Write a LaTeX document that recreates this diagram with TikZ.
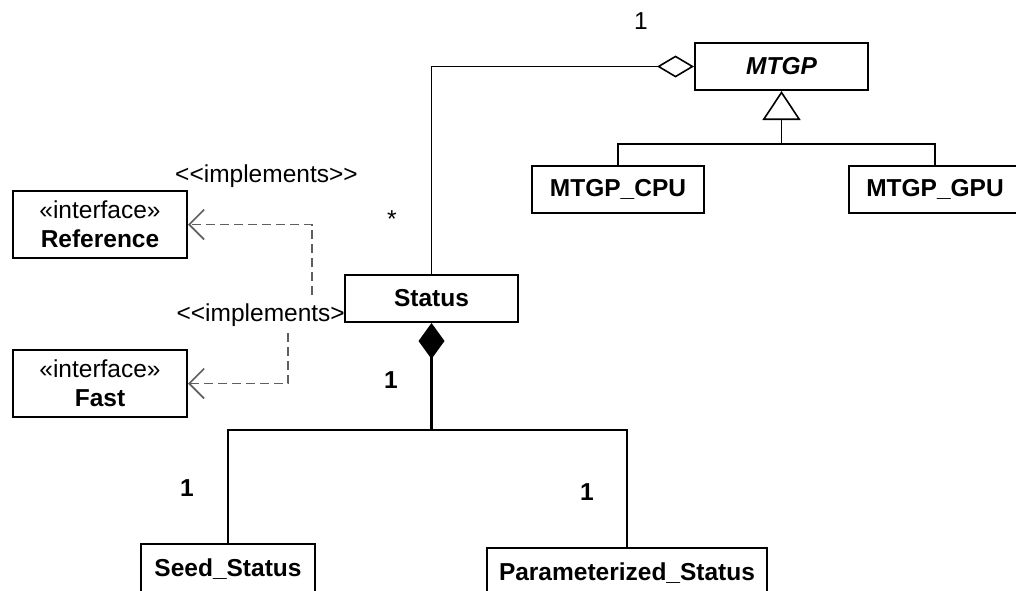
\documentclass[tikz,border=0pt]{standalone}
\usepackage{fontspec}
\newfontfamily\lsans{Liberation Sans}
\usetikzlibrary{arrows.meta}
\definecolor{dashgray}{RGB}{95,95,95}
\begin{document}
\begin{tikzpicture}[x=1pt,y=-1pt,
  every node/.style={font=\lsans\fontsize{24.5}{29}\selectfont, inner sep=0pt},
  cls/.style={draw=black, line width=2pt, fill=white, minimum height=47pt,
    font=\lsans\bfseries\fontsize{24.5}{29}\selectfont},
  iface/.style={draw=black, line width=2pt, fill=white, minimum width=174pt,
    minimum height=67pt, align=center},
  conn/.style={line width=1.6pt, draw=black},
  realize/.style={line width=1.6pt, draw=dashgray, dash pattern=on 9pt off 5pt,
    -{Straight Barb[length=15pt, width=30pt, line width=1.6pt]}},
  mult/.style={font=\lsans\fontsize{24.5}{29}\selectfont},
  bmult/.style={font=\lsans\bfseries\fontsize{24.5}{29}\selectfont}
]
\useasboundingbox (0,0) rectangle (1016,590);

% labels first (boxes drawn over them)
\node[anchor=base west] (impl1) at (175,182) {<<implements>>};
\node[anchor=base east] (impl2) at (345,321) {<<implements>};

% classes
\node[cls, minimum width=173pt, font=\lsans\bfseries\itshape\fontsize{24.5}{29}\selectfont] (mtgp) at (781.5,66.5) {MTGP};
\node[cls, minimum width=172pt] (cpu) at (618,189) {MTGP\_CPU};
\node[cls, minimum width=172pt] (gpu) at (935,189) {MTGP\_GPU};
\node[cls, minimum width=173pt] (status) at (431.5,298.5) {Status};
\node[cls, minimum width=174pt, minimum height=50pt] (seed) at (228,569) {Seed\_Status};
\node[cls, minimum width=280pt, minimum height=50pt] (param) at (627,573) {Parameterized\_Status};
\node[iface] (ref) at (100,224.5) {«interface»\\\textbf{Reference}};
\node[iface] (fast) at (100,383.5) {«interface»\\\textbf{Fast}};

% junction coordinates
\coordinate (gj) at (781.5,144);
\coordinate (cj) at (431.5,430);
\coordinate (d1) at (312,295);
\coordinate (d2) at (288,333);

% aggregation Status -> MTGP
\draw[conn, -{Diamond[open, fill=white, length=37pt, width=22pt, line width=1.6pt]}]
  (status.north) |- (mtgp.west);

% generalization
\draw[conn, -{Triangle[open, fill=white, length=29pt, width=38pt, line width=1.6pt]}]
  (gj) -- (mtgp.south);
\draw[conn] (cpu.north) |- (gj) -| (gpu.north);

% composition
\draw[line width=2.2pt, {Diamond[length=36pt, width=26pt]}-] (status.south) -- (cj);
\draw[conn] (seed.north) |- (cj) -| (param.north);

% realizations
\draw[realize] (d1) |- (ref.east);
\draw[realize] (d2) |- (fast.east);

% multiplicities
\node[mult] (m1) at (641,21.5) {1};
\node[mult, anchor=base] (m2) at (392,227) {*};
\node[bmult] (m3) at (391,380) {1};
\node[bmult] (m4) at (187,488) {1};
\node[bmult] (m5) at (587,492) {1};
\end{tikzpicture}
\end{document}
